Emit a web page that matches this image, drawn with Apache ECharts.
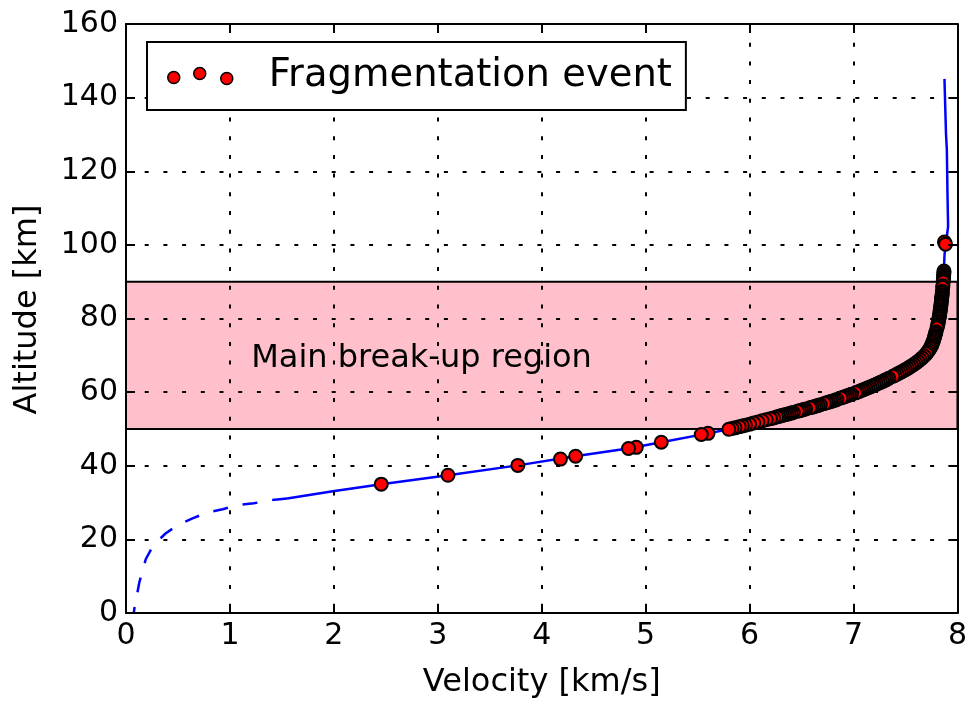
<!DOCTYPE html>
<html>
<head>
<meta charset="utf-8">
<title>Velocity vs altitude</title>
<script src="https://cdn.jsdelivr.net/npm/echarts@6/dist/echarts.min.js"></script>
<style>
	html, body { margin: 0; padding: 0; background: #fff; }
	#chart { width: 970px; height: 704px; }
</style>
</head>
<body>
<div id="chart"></div>
<script>
	// axis ranges / ticks
	const velocityRange = [0, 8, 1];
	const altitudeRange = [0, 160, 20];

	// break-up band [from, to] in km
	const breakupBand = [50, 90];
	const breakupLabel = ['Main break-up region', 1.2, 69.2];

	// trajectory, solid part (velocity km/s, altitude km), from the top down
	const trajectorySolid = [
		[7.875, 145.1], [7.882, 138], [7.886, 134], [7.89, 130], [7.898, 125.8], [7.902, 118],
		[7.904, 114], [7.908, 108], [7.91, 105], [7.898, 102.3], [7.885, 100.2], [7.875, 97],
		[7.87, 93], [7.865, 90.5], [7.856, 87.5], [7.845, 85], [7.83, 82], [7.81, 78.5],
		[7.79, 76], [7.77, 74], [7.74, 72], [7.70, 70.4], [7.65, 69], [7.60, 67.9],
		[7.50, 66.1], [7.40, 64.6], [7.30, 63.2], [7.20, 61.9], [7.10, 60.7], [7.00, 59.6],
		[6.80, 57.6], [6.60, 55.9], [6.40, 54.3], [6.20, 52.8], [6.00, 51.3], [5.80, 49.9],
		[5.60, 48.8], [5.15, 46.4], [4.83, 44.7], [4.32, 42.6], [3.77, 40.1], [3.10, 37.4],
		[2.456, 35.0], [1.99, 33.1], [1.55, 31.1]
	];

	// trajectory, dashed part below the last event
	const trajectoryDashed = [
		[1.55, 31.1], [1.38, 30.6], [1.23, 29.8], [1.07, 29.3], [0.93, 28.2], [0.78, 27.3],
		[0.64, 25.7], [0.50, 23.9], [0.38, 21.6], [0.26, 18.3], [0.19, 14.6], [0.128, 8.3],
		[0.08, 1.1], [0.075, 0]
	];

	// fragmentation events
	const fragmentsTop = [[7.875, 100.8], [7.885, 100.2]];

	const fragmentsBandUpper = [
		[7.870, 92.9], [7.870, 92.4], [7.868, 91.9], [7.867, 91.4], [7.866, 90.9], [7.864, 90.4],
		[7.863, 89.9], [7.860, 88.9], [7.858, 88.4], [7.855, 87.4],
		[7.854, 86.9], [7.852, 86.4], [7.850, 85.9], [7.848, 85.4], [7.846, 84.9], [7.844, 84.4],
		[7.842, 83.9], [7.840, 83.4], [7.838, 82.9], [7.835, 82.4], [7.833, 81.9], [7.830, 81.4],
		[7.828, 80.9], [7.825, 80.4], [7.822, 79.9], [7.818, 79.4], [7.815, 78.9], [7.811, 78.4],
		[7.807, 77.9], [7.803, 77.4], [7.794, 76.4], [7.789, 75.9], [7.784, 75.4],
		[7.779, 74.9], [7.774, 74.4], [7.768, 73.9], [7.761, 73.4], [7.754, 72.9], [7.747, 72.4],
		[7.738, 71.9], [7.725, 71.4], [7.712, 70.9]
	];

	const fragmentsBandLower = [
		[7.70, 70.4], [7.68, 69.8], [7.66, 69.3], [7.64, 68.8], [7.62, 68.35], [7.60, 67.9],
		[7.58, 67.5], [7.56, 67.15], [7.54, 66.8], [7.52, 66.45], [7.50, 66.1], [7.48, 65.8],
		[7.46, 65.5], [7.44, 65.2], [7.42, 64.9], [7.40, 64.6], [7.38, 64.3],
		[7.34, 63.75], [7.32, 63.45], [7.30, 63.2], [7.28, 62.9], [7.26, 62.65], [7.24, 62.4],
		[7.22, 62.15], [7.20, 61.9], [7.18, 61.65], [7.16, 61.4], [7.14, 61.2], [7.12, 60.95],
		[7.10, 60.7], [7.08, 60.5], [7.06, 60.25], [7.04, 60.05], [7.02, 59.8],
		[6.98, 59.4], [6.96, 59.2], [6.94, 59.0], [6.92, 58.8], [6.90, 58.6], [6.88, 58.4],
		[6.84, 58.0], [6.82, 57.8], [6.80, 57.6], [6.78, 57.45], [6.76, 57.25],
		[6.74, 57.1], [6.72, 56.9], [6.68, 56.6], [6.66, 56.4], [6.64, 56.25],
		[6.62, 56.05], [6.60, 55.9], [6.58, 55.75], [6.54, 55.4], [6.52, 55.3],
		[6.50, 55.1], [6.48, 54.95], [6.46, 54.8], [6.42, 54.45], [6.40, 54.3],
		[6.38, 54.15], [6.36, 54.0], [6.34, 53.85], [6.32, 53.7], [6.30, 53.55]
	];

	const fragmentsSparse = [
		[6.28, 53.4], [6.26, 53.25], [6.23, 53.0], [6.20, 52.8], [6.16, 52.5], [6.12, 52.2],
		[6.08, 51.9], [6.04, 51.6], [6.00, 51.3], [5.96, 51.0], [5.93, 50.8], [5.90, 50.6],
		[5.86, 50.3], [5.83, 50.1], [5.80, 49.9], [5.60, 48.8], [5.535, 48.5], [5.15, 46.4],
		[4.91, 45.0], [4.835, 44.7], [4.326, 42.6], [4.18, 41.8], [3.77, 40.1], [3.098, 37.4],
		[2.456, 35.0]
	];

	const fontFamily = 'DejaVu Sans';

	// three offset markers, same look as matplotlib scatter legend
	const legendIcon = 'path://M0 10A6 6 0 1 0 12 10A6 6 0 1 0 0 10Z'
		+ 'M26 6A6 6 0 1 0 38 6A6 6 0 1 0 26 6Z'
		+ 'M53 11A6 6 0 1 0 65 11A6 6 0 1 0 53 11Z'
		+ 'M96 8';

	const getAxis = function (range, position, labels) {
		return {
			type: 'value',
			position: position,
			min: range[0],
			max: range[1],
			interval: range[2],
			z: 4,
			axisLine: {
				show: true,
				onZero: false,
				lineStyle: { color: '#000', width: 2 }
			},
			axisTick: {
				show: true,
				inside: true,
				length: 9,
				lineStyle: { color: '#000', width: 2 }
			},
			axisLabel: {
				show: labels,
				color: '#000',
				fontSize: 30,
				fontFamily: fontFamily,
				margin: 8
			},
			splitLine: {
				show: labels,
				lineStyle: { color: '#000', width: 2, type: [4, 14.7] }
			}
		};
	};

	const xBottom = getAxis(velocityRange, 'bottom', true);
	xBottom.name = 'Velocity [km/s]';
	xBottom.nameLocation = 'middle';
	xBottom.nameGap = 54;
	xBottom.nameTextStyle = { color: '#000', fontSize: 32, fontFamily: fontFamily };

	const yLeft = getAxis(altitudeRange, 'left', true);
	yLeft.name = 'Altitude [km]';
	yLeft.nameLocation = 'middle';
	yLeft.nameGap = 82;
	yLeft.nameTextStyle = { color: '#000', fontSize: 32, fontFamily: fontFamily, padding: [0, 0, 0, 18] };

	const chart = echarts.init(document.getElementById('chart'), null, { renderer: 'canvas' });

	chart.setOption({
		animation: false,
		backgroundColor: '#fff',
		textStyle: { fontFamily: fontFamily },
		grid: { left: 126, right: 10, top: 24, bottom: 90, containLabel: false },
		legend: {
			data: ['Fragmentation event'],
			z: 6,
			left: 147,
			top: 42,
			orient: 'horizontal',
			icon: legendIcon,
			itemWidth: 96,
			itemHeight: 17,
			padding: [13, 14, 13, 20],
			backgroundColor: '#fff',
			borderColor: '#000',
			borderWidth: 2,
			selectedMode: false,
			itemStyle: { borderWidth: 1.5 },
			textStyle: { color: '#000', fontSize: 38.5, lineHeight: 42, fontFamily: fontFamily }
		},
		xAxis: [xBottom, getAxis(velocityRange, 'top', false)],
		yAxis: [yLeft, getAxis(altitudeRange, 'right', false)],
		series: [{
				name: 'Trajectory',
				type: 'line',
				z: 2,
				data: trajectorySolid,
				showSymbol: false,
				symbol: 'none',
				lineStyle: { color: '#0000ff', width: 2.5 },
				markArea: {
					silent: true,
					itemStyle: { color: '#ffc0cb', opacity: 1, borderColor: '#000', borderWidth: 2 },
					data: [[{ yAxis: breakupBand[0] }, { yAxis: breakupBand[1] }]]
				}
			}, {
				name: 'Trajectory (extrapolated)',
				type: 'line',
				z: 2,
				data: trajectoryDashed,
				showSymbol: false,
				symbol: 'none',
				lineStyle: { color: '#0000ff', width: 2.5, type: [15, 15] }
			}, {
				name: 'Fragmentation event',
				type: 'scatter',
				z: 3,
				data: fragmentsTop.concat(fragmentsBandUpper, fragmentsBandLower, fragmentsSparse),
				symbol: 'circle',
				symbolSize: 13,
				itemStyle: { color: '#ff0000', borderColor: '#000', borderWidth: 2, opacity: 1 },
				markPoint: {
					silent: true,
					symbol: 'rect',
					symbolSize: 1,
					itemStyle: { color: 'rgba(0,0,0,0)', borderWidth: 0 },
					label: {
						show: true,
						position: 'right',
						distance: 0,
						color: '#000',
						fontSize: 32,
						fontFamily: fontFamily,
						formatter: breakupLabel[0]
					},
					data: [{ coord: [breakupLabel[1], breakupLabel[2]] }]
				}
			}
		]
	});
</script>
</body>
</html>
